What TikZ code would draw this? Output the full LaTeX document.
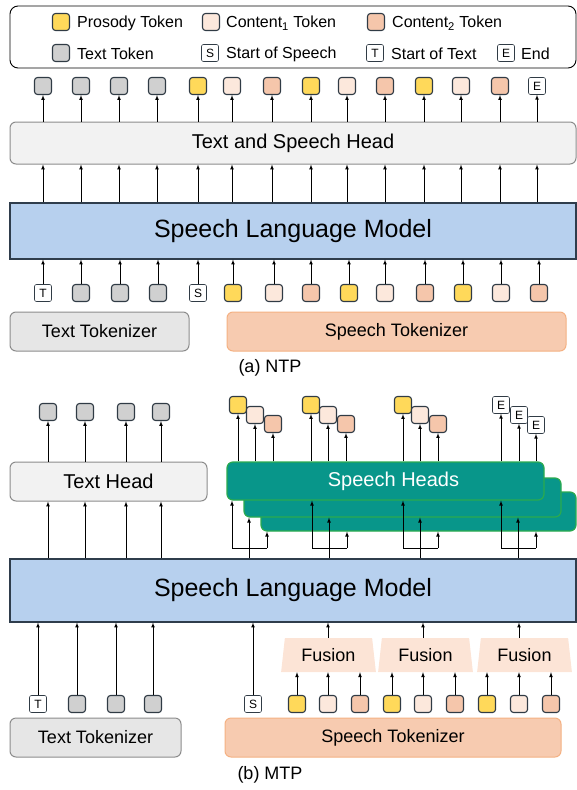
\documentclass[tikz,border=0pt]{standalone}
\usepackage{fontspec}
\setmainfont{Liberation Sans}
\usetikzlibrary{arrows,positioning,shapes.geometric,calc}
\newcommand{\fsz}[1]{\fontsize{#1}{#1}\selectfont}
\definecolor{prosody}{HTML}{FFD95A}
\definecolor{contone}{HTML}{FCE8DC}
\definecolor{conttwo}{HTML}{F5C6AB}
\definecolor{texttok}{HTML}{D0D0D0}
\definecolor{tokline}{HTML}{303B45}
\definecolor{slmblue}{HTML}{B7D0EE}
\definecolor{slmline}{HTML}{2F3D4C}
\definecolor{headgray}{HTML}{F2F2F2}
\definecolor{tzgray}{HTML}{E6E6E6}
\definecolor{boxline}{HTML}{8C8C8C}
\definecolor{spfill}{HTML}{F7CBB0}
\definecolor{spline}{HTML}{F4B183}
\definecolor{headteal}{HTML}{08968A}
\definecolor{headedge}{HTML}{2BAA4F}
\definecolor{fusionfill}{HTML}{FCE4D6}
\tikzset{
  tok/.style={rectangle, rounded corners=3pt, draw=tokline, line width=1.1pt, minimum size=17pt, inner sep=0pt},
  spec/.style={rectangle, rounded corners=2pt, draw=tokline, line width=0.6pt, fill=white, minimum size=17pt, inner sep=0pt, font=\fsz{12}},
  legtext/.style={anchor=west, inner sep=0pt, font=\fsz{16}},
  legbox/.style={rectangle, rounded corners=8pt, draw=black, line width=0.9pt, minimum width=566pt, minimum height=62pt},
  graybox/.style={rectangle, rounded corners=6pt, draw=boxline, line width=1pt, fill=headgray, font=\fsz{20}},
  slm/.style={rectangle, draw=slmline, line width=1.1pt, fill=slmblue, minimum width=566pt, font=\fsz{25}},
  texttz/.style={rectangle, rounded corners=6pt, draw=boxline, line width=1pt, fill=tzgray, minimum height=39pt, font=\fsz{18}},
  speechtz/.style={rectangle, rounded corners=6pt, draw=spline, line width=1pt, fill=spfill, minimum height=39pt, font=\fsz{18}},
  shead/.style={rectangle, rounded corners=6pt, draw=headedge, line width=1.2pt, fill=headteal, text=white, font=\fsz{20}},
  fusion/.style={trapezium, trapezium angle=80, trapezium stretches=true, fill=fusionfill, minimum width=95pt, minimum height=34pt, inner sep=0pt, font=\fsz{18}},
  caption/.style={font=\fsz{18}, inner sep=0pt}
}
\begin{document}
\begin{tikzpicture}[x=1pt,y=-1pt]
  \useasboundingbox (0,0) rectangle (577,790);
  %legend
  \node[legbox] (leg) at (293,37) {};
  \node[tok,fill=prosody] (lp) at (61,22) {};
  \node[legtext] (lpt) at (77,23) {Prosody Token};
  \node[tok,fill=contone] (lc1) at (211,22) {};
  \node[legtext] (lc1t) at (226,23) {Content\textsubscript{1} Token};
  \node[tok,fill=conttwo] (lc2) at (376,22) {};
  \node[legtext] (lc2t) at (392,23) {Content\textsubscript{2} Token};
  \node[tok,fill=texttok] (lx) at (61,53) {};
  \node[legtext] (lxt) at (77,54) {Text Token};
  \node[spec] (ls) at (210,53) {S};
  \node[legtext] (lst) at (226,54) {Start of Speech};
  \node[spec] (lt) at (375,53) {T};
  \node[legtext] (ltt) at (391,54) {Start of Text};
  \node[spec] (le) at (506,53) {E};
  \node[legtext] (let) at (521,54) {End};

  %(a) NTP
  \node[graybox, minimum width=566pt, minimum height=42pt] (head1) at (293,143) {Text and Speech Head};
  \node[slm, minimum height=56pt] (slm1) at (293,231) {Speech Language Model};
  \node[texttz, minimum width=179pt] (ttz1) at (99.5,331.5) {Text Tokenizer};
  \node[speechtz, minimum width=339pt] (stz1) at (396.5,331.5) {Speech Tokenizer};
  \node[caption] (capa) at (270,368) {(a) NTP};
  % outputs
  \foreach \x/\c [count=\i] in {43/texttok,81/texttok,119/texttok,157/texttok,198/prosody,232/contone,272/conttwo,311/prosody,347/contone,385/conttwo,424/prosody,461/contone,500/conttwo}
    \node[tok,fill=\c] (o\i) at (\x,86) {};
  \node[spec] (o14) at (537,86) {E};
  \foreach \i in {1,...,14} {
    \path [draw,-latex,line width=0.7pt] (o\i.south |- head1.north) -- (o\i.south);
    \path [draw,-latex,line width=0.7pt] (o\i.south |- slm1.north) -- (o\i.south |- head1.south);
  }
  % inputs
  \node[spec] (i1) at (43,293) {T};
  \foreach \x [count=\i from 2] in {81,120,158}
    \node[tok,fill=texttok] (i\i) at (\x,293) {};
  \node[spec] (i5) at (198,293) {S};
  \foreach \x/\c [count=\i from 6] in {233/prosody,274/contone,311/conttwo,349/prosody,385/contone,425/conttwo,463/prosody,501/contone,539/conttwo}
    \node[tok,fill=\c] (i\i) at (\x,293) {};
  \foreach \i in {1,...,14}
    \path [draw,-latex,line width=0.7pt] (i\i) -- (i\i |- slm1.south);

  %(b) MTP
  \node[graybox, minimum width=197pt, minimum height=39pt] (th) at (108.5,481.5) {Text Head};
  \node[shead, minimum width=315pt, minimum height=39pt] (sh3) at (418.5,511.5) {};
  \node[shead, minimum width=317pt, minimum height=39pt] (sh2) at (402.5,497.5) {};
  \node[shead, minimum width=317pt, minimum height=38pt] (sh1) at (385.5,481) {\hspace*{16pt}Speech Heads};
  \node[slm, minimum height=63pt] (slm2) at (293,590.5) {Speech Language Model};
  \node[texttz, minimum width=171pt] (ttz2) at (95.5,737.5) {Text Tokenizer};
  \node[speechtz, minimum width=336pt] (stz2) at (393,737.5) {Speech Tokenizer};
  \node[caption] (capb) at (270,775) {(b) MTP};
  % text head
  \foreach \x [count=\i] in {48,85,126,161} {
    \node[tok,fill=texttok] (u\i) at (\x,412) {};
    \path [draw,-latex,line width=0.7pt] (u\i.south |- th.north) -- (u\i.south);
    \path [draw,-latex,line width=0.7pt] (u\i.south |- slm2.north) -- (u\i.south |- th.south);
  }
  % speech heads
  \foreach \x [count=\g] in {238,311,403} {
    \node[tok,fill=prosody] (p\g) at (\x,405) {};
    \node[tok,fill=contone] (q\g) at (\x+17,415) {};
    \node[tok,fill=conttwo] (r\g) at (\x+35,424) {};
  }
  \node[spec] (p4) at (501,405) {E};
  \node[spec] (q4) at (519,415) {E};
  \node[spec] (r4) at (536,425) {E};
  \foreach \n in {p1,q1,r1,p2,q2,r2,p3,q3,r3,p4,q4,r4}
    \path [draw,-latex,line width=0.7pt] (\n.south |- sh1.north) -- (\n.south);
  \foreach \x [count=\g] in {249,329,420,518} {
    \coordinate (fk\g) at (\x,548);
    \coordinate (fl\g) at (\x-17,548);
    \coordinate (fr\g) at (\x+18,548);
    \path [draw,-latex,line width=0.7pt] (fk\g |- slm2.north) -- (fk\g |- sh2.south);
    \path [draw,line width=0.7pt] (fl\g) -- (fr\g);
    \path [draw,-latex,line width=0.7pt] (fl\g) -- (fl\g |- sh1.south);
    \path [draw,-latex,line width=0.7pt] (fr\g) -- (fr\g |- sh3.south);
  }
  % inputs
  \node[spec] (v1) at (38,704) {T};
  \foreach \x [count=\i from 2] in {77,116,153}
    \node[tok,fill=texttok] (v\i) at (\x,704) {};
  \foreach \i in {1,...,4}
    \path [draw,-latex,line width=0.7pt] (v\i) -- (v\i |- slm2.south);
  \node[spec] (s2) at (253,704) {S};
  \path [draw,-latex,line width=0.7pt] (s2) -- (s2 |- slm2.south);
  \foreach \x [count=\f] in {328.5,425.5,524.5}
    \node[fusion] (fu\f) at (\x,655) {Fusion};
  \foreach \x/\c [count=\i] in {297/prosody,328/contone,360/conttwo,392/prosody,423/contone,455/conttwo,487/prosody,519/contone,551/conttwo} {
    \node[tok,fill=\c] (w\i) at (\x,704) {};
    \pgfmathtruncatemacro\f{(\i+2)/3}
    \path [draw,-latex,line width=0.7pt] (w\i) -- (w\i |- fu\f.south);
  }
  \path [draw,-latex,line width=0.7pt] (w2 |- fu1.north) -- (w2 |- slm2.south);
  \path [draw,-latex,line width=0.7pt] (w5 |- fu2.north) -- (w5 |- slm2.south);
  \path [draw,-latex,line width=0.7pt] (w8 |- fu3.north) -- (w8 |- slm2.south);
\end{tikzpicture}
\end{document}
